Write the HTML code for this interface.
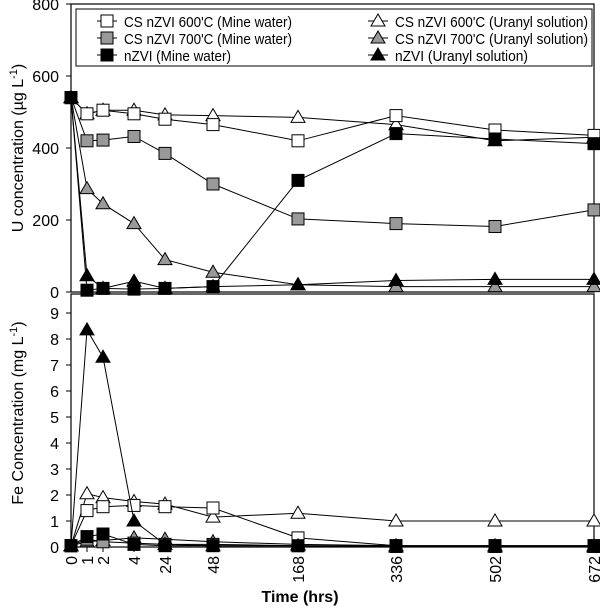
<!DOCTYPE html>
<html><head><meta charset="utf-8"><style>body{margin:0;background:#fff}svg{display:block;font-family:"Liberation Sans",Arial,sans-serif}</style></head>
<body><svg id="s" width="600" height="608" xmlns="http://www.w3.org/2000/svg"></svg>
<script>
const s=document.getElementById('s');let h='';
const X=[71,87,103,134,165,213,298,396,495,594];
const ty=v=>292-v*0.36, by=v=>547-v*26;
h+='<rect x="71" y="4" width="523" height="288" fill="none" stroke="#000" stroke-width="1.2"/>';
h+='<rect x="71" y="294" width="523" height="253" fill="none" stroke="#000" stroke-width="1.2"/>';
[0,200,400,600,800].forEach(v=>{h+=`<line x1="66" x2="71" y1="${ty(v)}" y2="${ty(v)}" stroke="#000"/><text x="59" y="${ty(v)+6}" font-size="16" text-anchor="end">${v}</text>`});
for(let v=0;v<=9;v++){h+=`<line x1="66" x2="71" y1="${by(v)}" y2="${by(v)}" stroke="#000"/><text x="59" y="${by(v)+6}" font-size="16" text-anchor="end">${v}</text>`}
const L=['0','1','2','4','24','48','168','336','502','672'];
X.forEach((x,i)=>{h+=`<line x1="${x}" x2="${x}" y1="547" y2="552" stroke="#000"/><text transform="translate(${x+6},556) rotate(-90)" font-size="16" text-anchor="end">${L[i]}</text>`});
h+='<text x="300" y="602" font-size="16" font-weight="bold" text-anchor="middle">Time (hrs)</text>';
h+='<text transform="translate(23,148) rotate(-90)" font-size="16" text-anchor="middle">U concentration (µg L<tspan dy="-6" font-size="11">-1</tspan><tspan dy="6">)</tspan></text>';
h+='<text transform="translate(23,413) rotate(-90)" font-size="16" text-anchor="middle">Fe Concentration (mg L<tspan dy="-6" font-size="11">-1</tspan><tspan dy="6">)</tspan></text>';
function mk(t,f,x,y){if(t=='s')return `<rect x="${x-6}" y="${y-6}" width="12" height="12" fill="${f}" stroke="#000" stroke-width="1"/>`;
return `<polygon points="${x},${y-7} ${x-7},${y+5} ${x+7},${y+5}" fill="${f}" stroke="#000" stroke-width="1"/>`}
function ser(d,f,t,sc){let p=d.map((v,i)=>X[i]+','+sc(v)).join(' ');let r=`<polyline points="${p}" fill="none" stroke="#000" stroke-width="1"/>`;d.forEach((v,i)=>r+=mk(t,f,X[i],sc(v)));return r}
const T=[
['t','#fff',[540,495,505,505,492,490,485,465,420,430]],
['t','#999',[540,287,245,190,90,55,20,15,15,15]],
['t','#000',[540,45,10,30,10,15,20,32,35,35]],
['s','#fff',[540,495,505,495,480,465,420,490,450,435]],
['s','#999',[540,420,422,432,385,300,203,190,182,228]],
['s','#000',[540,5,10,8,10,15,310,440,425,412]]];
T.forEach(a=>h+=ser(a[2],a[1],a[0],ty));
const B=[
['t','#999',[0.05,0.2,0.25,0.35,0.3,0.2,0.1,0.05,0.05,0.05]],
['s','#999',[0.05,0.3,0.2,0.15,0.1,0.1,0.05,0.05,0.05,0.05]],
['t','#fff',[0.05,2.05,1.9,1.75,1.65,1.15,1.3,1.0,1.0,1.0]],
['s','#fff',[0.05,1.4,1.55,1.6,1.55,1.5,0.35,0.05,0.05,0.05]],
['t','#000',[0.05,8.35,7.3,1.0,0.1,0.05,0.05,0,0,0]],
['s','#000',[0.05,0.4,0.5,0.1,0.05,0.05,0.05,0.02,0.02,0.02]]];
B.forEach(a=>h+=ser(a[2],a[1],a[0],by));
h+='<rect x="76" y="9" width="516" height="57" fill="#fff" stroke="#000" stroke-width="1"/>';
const LG=[['s','#fff','CS nZVI 600\'C (Mine water)',168],['s','#999','CS nZVI 700\'C (Mine water)',168],['s','#000','nZVI (Mine water)',107]];
const RG=[['t','#fff','CS nZVI 600\'C (Uranyl solution)',193],['t','#999','CS nZVI 700\'C (Uranyl solution)',193],['t','#000','nZVI (Uranyl solution)',133]];
[[LG,107],[RG,378]].forEach(([g,x])=>g.forEach((e,i)=>{const y=21+i*17;h+=`<line x1="${x-10}" x2="${x+10}" y1="${y}" y2="${y}" stroke="#000"/>`+mk(e[0],e[1],x,y)+`<text x="${x+17}" y="${y+6}" font-size="15" textLength="${e[3]}" lengthAdjust="spacingAndGlyphs">${e[2]}</text>`}));
s.innerHTML=h;
</script></body></html>
